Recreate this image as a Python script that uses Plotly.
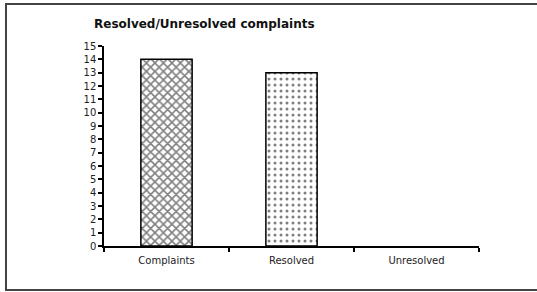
import plotly.graph_objects as go

categories = ["Complaints", "Resolved", "Unresolved"]
values = [14, 13, 0]
patterns = ["x", ".", ""]
y_ticks = list(range(0, 16))
title_text = "Resolved/Unresolved complaints"

W, H = 537, 292
L, R, T, B = 104, 58, 46, 46
pw, ph = W - L - R, H - T - B

def px_x(p):
    return (p - L) / pw

def px_y(p):
    return (H - B - p) / ph

fig = go.Figure()
fig.add_trace(go.Bar(
    x=categories, y=values, width=0.41,
    marker=dict(color="white",
                line=dict(color="black", width=[1.5 if v > 0 else 0 for v in values]),
                pattern=dict(shape=patterns, fgcolor="black", bgcolor="white",
                             size=[6, 6, 6], solidity=[0.45, 0.2, 0.1])),
    showlegend=False,
    hoverinfo="skip",
))

fig.update_layout(
    width=W, height=H,
    margin=dict(l=L, r=R, t=T, b=B),
    paper_bgcolor="white", plot_bgcolor="white",
    font=dict(family="DejaVu Sans", size=10, color="#222"),
    xaxis=dict(showline=True, linecolor="black", linewidth=1.5,
               ticks="outside", tickson="boundaries", ticklen=4, tickwidth=1.5,
               tickcolor="black", showgrid=False, zeroline=False, ticklabelstandoff=4,
               tickfont=dict(size=10, family="DejaVu Sans", color="#222")),
    yaxis=dict(range=[0, 15], tickvals=y_ticks, showline=True, linecolor="black",
               linewidth=1.5, ticks="outside", ticklen=4, tickwidth=1.5, tickcolor="black",
               showgrid=False, zeroline=False,
               tickfont=dict(size=10, family="DejaVu Sans", color="#222")),
    shapes=[dict(type="rect", xref="paper", yref="paper",
                 x0=px_x(6), x1=px_x(545), y0=px_y(290), y1=px_y(4),
                 line=dict(color="#444", width=2), fillcolor="rgba(0,0,0,0)", layer="below")],
    annotations=[dict(text="<b>" + title_text + "</b>", xref="paper", yref="paper",
                      x=px_x(92), y=px_y(24), xanchor="left", yanchor="middle",
                      showarrow=False, font=dict(family="DejaVu Sans", size=12, color="#111"))],
)

fig.write_html("out.html", config={"displayModeBar": False},
               post_script="document.body.style.margin='0';document.body.style.overflow='hidden';")
